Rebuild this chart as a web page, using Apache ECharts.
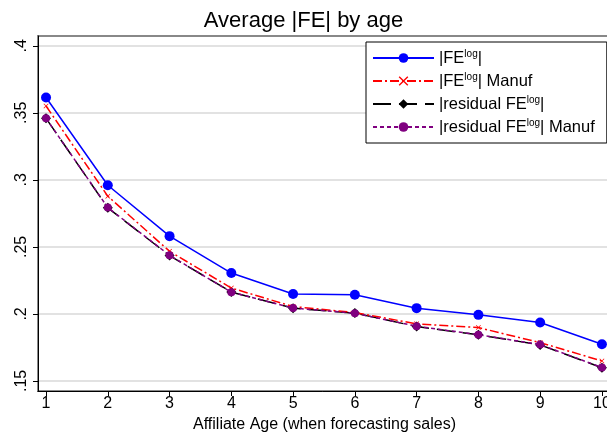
<!DOCTYPE html>
<html>
<head>
<meta charset="utf-8">
<script src="https://cdn.jsdelivr.net/npm/echarts@6/dist/echarts.min.js"></script>
<style>
  html, body { margin: 0; padding: 0; background: #fff; }
  #chart { width: 607px; height: 432px; }
</style>
</head>
<body>
<div id="chart"></div>
<script>
// affiliate age (x)
var ages = [1, 2, 3, 4, 5, 6, 7, 8, 9, 10];
var yTicks = [0.15, 0.2, 0.25, 0.3, 0.35, 0.4];

var feLog = [0.3614, 0.2960, 0.2580, 0.2305, 0.2148, 0.2143, 0.2043, 0.1993, 0.1936, 0.1774];
var feLogManuf = [0.3551, 0.2878, 0.2467, 0.2193, 0.2055, 0.2010, 0.1926, 0.1898, 0.1786, 0.1649];
var residLog = [0.3459, 0.2791, 0.2435, 0.2163, 0.2043, 0.2006, 0.1906, 0.1844, 0.1769, 0.1599];
var residLogManuf = [0.3459, 0.2793, 0.2437, 0.2162, 0.2044, 0.2005, 0.1908, 0.1845, 0.1771, 0.1600];

function pairs(ys) {
    return ages.map(function (a, i) { return [a, ys[i]]; });
}

var crossPath = 'path://M0,1L1,0L5,4L9,0L10,1L6,5L10,9L9,10L5,6L1,10L0,9L4,5Z';
var font = 'Liberation Sans, Arial, sans-serif';

var chart = echarts.init(document.getElementById('chart'));
chart.setOption({
    animation: false,
    backgroundColor: '#fff',
    textStyle: { fontFamily: font },
    title: {
        text: 'Average |FE| by age',
        left: 'center',
        top: 5,
        textStyle: { fontFamily: font, fontSize: 22, fontWeight: 'normal', color: '#000' }
    },
    grid: {
        left: 38, right: -4, top: 36, bottom: 41,
        outerBoundsMode: 'none',
        containLabel: false,
        show: true, borderColor: '#888', borderWidth: 2, backgroundColor: '#fff'
    },
    legend: {
        orient: 'vertical',
        left: 366, top: 42,
        width: 239,
        padding: [7, 12, 7, 6],
        backgroundColor: '#fff',
        borderColor: '#000',
        borderWidth: 1,
        borderRadius: 0,
        itemWidth: 61,
        itemHeight: 12,
        itemGap: 5,
        textStyle: {
            fontFamily: font, fontSize: 16.5, color: '#000', lineHeight: 18,
            rich: {
                sup: { fontSize: 10, lineHeight: 18, verticalAlign: 'top', padding: [0, 0, 6, 0], fontFamily: font, color: '#000' }
            }
        },
        formatter: function (name) {
            return name.replace('^log', '{sup|log}');
        },
        data: ['|FE^log|', '|FE^log| Manuf', '|residual FE^log|', '|residual FE^log| Manuf']
    },
    xAxis: {
        type: 'value',
        min: 0.87, max: 10.147,
        name: 'Affiliate Age (when forecasting sales)',
        nameLocation: 'middle',
        nameGap: 25,
        nameTextStyle: { fontFamily: font, fontSize: 16, color: '#000' },
        axisLine: { show: true, lineStyle: { color: '#000', width: 1 } },
        axisTick: { show: true, length: 5, customValues: ages, lineStyle: { color: '#000' } },
        axisLabel: { customValues: ages, fontSize: 16, color: '#000', margin: 5, fontFamily: font },
        splitLine: { show: false }
    },
    yAxis: {
        type: 'value',
        min: 0.1425, max: 0.4073,
        axisLine: { show: true, lineStyle: { color: '#000', width: 1 } },
        axisTick: { show: true, length: 5, customValues: yTicks, lineStyle: { color: '#000' } },
        axisLabel: {
            customValues: yTicks, rotate: 90, fontSize: 16, color: '#000', margin: 8, fontFamily: font,
            formatter: function (v) { return String(+v.toFixed(2)).replace(/^0/, ''); }
        },
        splitLine: { show: true, customValues: yTicks, lineStyle: { color: '#e2e2e2', width: 2 } }
    },
    series: [{
        name: '|FE^log|',
        type: 'line',
        data: pairs(feLog),
        color: '#0000ff',
        lineStyle: { width: 1.5, type: 'solid' },
        symbol: 'circle', symbolSize: 10,
        z: 4
    }, {
        name: '|FE^log| Manuf',
        type: 'line',
        data: pairs(feLogManuf),
        color: '#ff0000',
        lineStyle: { width: 1.5, type: [9, 3, 2, 3] },
        symbol: crossPath, symbolSize: 5,
        z: 3
    }, {
        name: '|residual FE^log|',
        type: 'line',
        data: pairs(residLog),
        color: '#000000',
        lineStyle: { width: 1.5, type: [18, 8] },
        symbol: 'diamond', symbolSize: 10,
        z: 2
    }, {
        name: '|residual FE^log| Manuf',
        type: 'line',
        data: pairs(residLogManuf),
        color: '#800080',
        lineStyle: { width: 1.5, type: [4, 3] },
        symbol: 'circle', symbolSize: 8,
        z: 5
    }]
});
</script>
</body>
</html>
